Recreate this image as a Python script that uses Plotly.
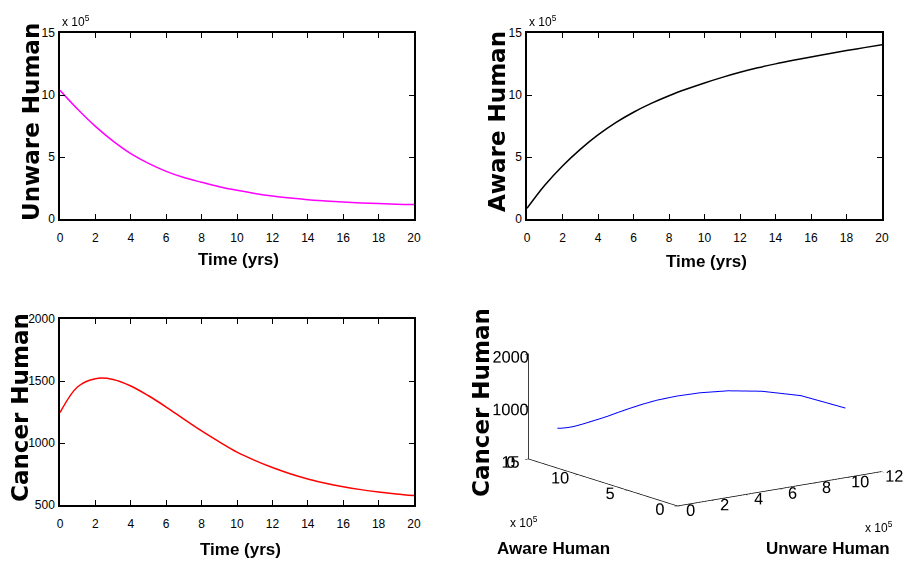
import math
import plotly.graph_objects as go

# Simulation output sampled once a year (populations of Unware / Aware in units of 1e5)
years = list(range(0, 21))
unaware_1e5 = [10.38, 8.85, 7.47, 6.28, 5.27, 4.48, 3.84, 3.34, 2.96, 2.60, 2.31,
               2.06, 1.85, 1.69, 1.56, 1.46, 1.37, 1.30, 1.24, 1.19, 1.16]
aware_1e5 = [0.86, 2.72, 4.28, 5.62, 6.78, 7.77, 8.61, 9.32, 9.94, 10.48, 10.97,
             11.42, 11.83, 12.19, 12.51, 12.80, 13.07, 13.33, 13.58, 13.82, 14.06]
cancer = [1245, 1454, 1519, 1513, 1460, 1381, 1290, 1192, 1097, 1009, 926,
          860, 802, 752, 710, 675, 647, 624, 605, 589, 576]

time_ticks = list(range(0, 21, 2))
pop_ticks = [0, 5, 10, 15]
cancer_ticks = [500, 1000, 1500, 2000]
unaware_3d_ticks = list(range(0, 13, 2))
aware_3d_ticks = [0, 5, 10, 15]
cancer_3d_ticks = [0, 1000, 2000]

W, H = 904, 568


def fx(p):
    return p / W


def fy(p):
    return 1 - p / H


SANS = "Liberation Sans, Arial, sans-serif"
WIDE_BOLD = "DejaVu Sans, Verdana, sans-serif"
tick_font = dict(family=SANS, size=12, color="black")
tick_font_3d = dict(family=SANS, size=14, color="black")

fig = go.Figure()
fig.add_trace(go.Scatter(x=years, y=unaware_1e5, mode="lines",
                         line=dict(color="#ff00ff", width=1.5, shape="spline"),
                         xaxis="x", yaxis="y", showlegend=False))
fig.add_trace(go.Scatter(x=years, y=aware_1e5, mode="lines",
                         line=dict(color="#000000", width=1.5, shape="spline"),
                         xaxis="x2", yaxis="y2", showlegend=False))
fig.add_trace(go.Scatter(x=years, y=cancer, mode="lines",
                         line=dict(color="#ff0000", width=1.5, shape="spline"),
                         xaxis="x3", yaxis="y3", showlegend=False))
fig.add_trace(go.Scatter3d(x=unaware_1e5, y=aware_1e5, z=cancer, mode="lines",
                           line=dict(color="#0000ff", width=2),
                           scene="scene", showlegend=False))

axis_common = dict(showline=True, linecolor="black", linewidth=1.5, mirror="ticks",
                   ticks="inside", ticklen=5, tickwidth=1, tickcolor="black",
                   showgrid=False, zeroline=False, tickfont=tick_font, fixedrange=True)

left_dom = [fx(60), fx(414)]
right_dom = [fx(527), fx(882)]
top_dom = [fy(219), fy(33)]
bottom_dom = [fy(505), fy(319)]

fig.update_layout(
    xaxis=dict(domain=left_dom, range=[0, 20], tickvals=time_ticks, anchor="y",
               ticklabelstandoff=7, **axis_common),
    yaxis=dict(domain=top_dom, range=[0, 15], tickvals=pop_ticks, anchor="x",
               ticklabelstandoff=1, **axis_common),
    xaxis2=dict(domain=right_dom, range=[0, 20], tickvals=time_ticks, anchor="y2",
                ticklabelstandoff=7, **axis_common),
    yaxis2=dict(domain=top_dom, range=[0, 15], tickvals=pop_ticks, anchor="x2",
                ticklabelstandoff=1, **axis_common),
    xaxis3=dict(domain=left_dom, range=[0, 20], tickvals=time_ticks, anchor="y3",
                ticklabelstandoff=7, **axis_common),
    yaxis3=dict(domain=bottom_dom, range=[500, 2000], tickvals=cancer_ticks, anchor="x3",
                ticklabelstandoff=1, **axis_common),
)

scene_axis = dict(showbackground=False, showgrid=False, zeroline=False, showspikes=False,
                  showline=True, linecolor="black", linewidth=1.5, ticks="outside",
                  ticklen=4, tickcolor="black", tickfont=tick_font_3d, tickangle=0,
                  title=dict(text=""))

# orthographic view from the (-x, -y) side, slightly above the base plane
azimuth = math.radians(50.6)      # measured from the -x axis towards -y
elevation_sin = 0.231
horiz = math.sqrt(1 - elevation_sin ** 2)
eye_dir = (-math.cos(azimuth) * horiz, -math.sin(azimuth) * horiz, elevation_sin)
# screen-right direction for this view, used to nudge the box inside its domain
right_dir = (math.sin(azimuth), -math.cos(azimuth), 0.0)
nudge = -0.11
fig.update_layout(
    scene=dict(
        domain=dict(x=[fx(480), 1.0], y=[fy(530), fy(295)]),
        xaxis=dict(range=[0, 12], tickvals=unaware_3d_ticks, **scene_axis),
        yaxis=dict(range=[0, 15], tickvals=aware_3d_ticks, **scene_axis),
        zaxis=dict(range=[0, 2000], tickvals=cancer_3d_ticks, **scene_axis),
        aspectmode="manual",
        aspectratio=dict(x=2.15, y=2.15, z=0.92),
        camera=dict(projection=dict(type="orthographic"),
                    eye=dict(x=eye_dir[0] * 2, y=eye_dir[1] * 2, z=eye_dir[2] * 2),
                    up=dict(x=0, y=0, z=1),
                    center=dict(x=right_dir[0] * nudge, y=right_dir[1] * nudge, z=0)),
        dragmode=False,
        bgcolor="white",
    )
)

label_font = dict(family=SANS, size=17, color="black", weight="bold")
ytitle_font = dict(family=WIDE_BOLD, size=23, color="black", weight="bold")
exp_font = dict(family=SANS, size=12, color="black")

annotations = [
    # x-axis titles
    dict(text="Time (yrs)", x=fx(238), y=fy(259), font=label_font),
    dict(text="Time (yrs)", x=fx(706), y=fy(261), font=label_font),
    dict(text="Time (yrs)", x=fx(240), y=fy(549), font=label_font),
    dict(text="Aware Human", x=fx(553), y=fy(548), font=label_font),
    dict(text="Unware Human", x=fx(828), y=fy(548), font=label_font),
    # y-axis titles
    dict(text="Unware Human", x=fx(31), y=fy(122), textangle=-90, font=ytitle_font),
    dict(text="Aware Human", x=fx(497), y=fy(122), textangle=-90, font=ytitle_font),
    dict(text="Cancer Human", x=fx(20), y=fy(408), textangle=-90, font=ytitle_font),
    dict(text="Cancer Human", x=fx(481), y=fy(402), textangle=-90, font=ytitle_font),
    # scale factors
    dict(text="x 10<sup>5</sup>", x=fx(60), y=fy(21), xanchor="left", font=exp_font),
    dict(text="x 10<sup>5</sup>", x=fx(527), y=fy(21), xanchor="left", font=exp_font),
    dict(text="x 10<sup>5</sup>", x=fx(508), y=fy(522), xanchor="left", font=exp_font),
    dict(text="x 10<sup>5</sup>", x=fx(863), y=fy(527), xanchor="left", font=exp_font),
]
for a in annotations:
    a.setdefault("xanchor", "center")
    a.setdefault("yanchor", "middle")
    a.update(xref="paper", yref="paper", showarrow=False)

fig.update_layout(
    width=W, height=H,
    margin=dict(l=0, r=0, t=0, b=0),
    paper_bgcolor="white", plot_bgcolor="white",
    template="none",
    annotations=annotations,
    showlegend=False,
)

fig.write_html("out.html", config={"displayModeBar": False})
